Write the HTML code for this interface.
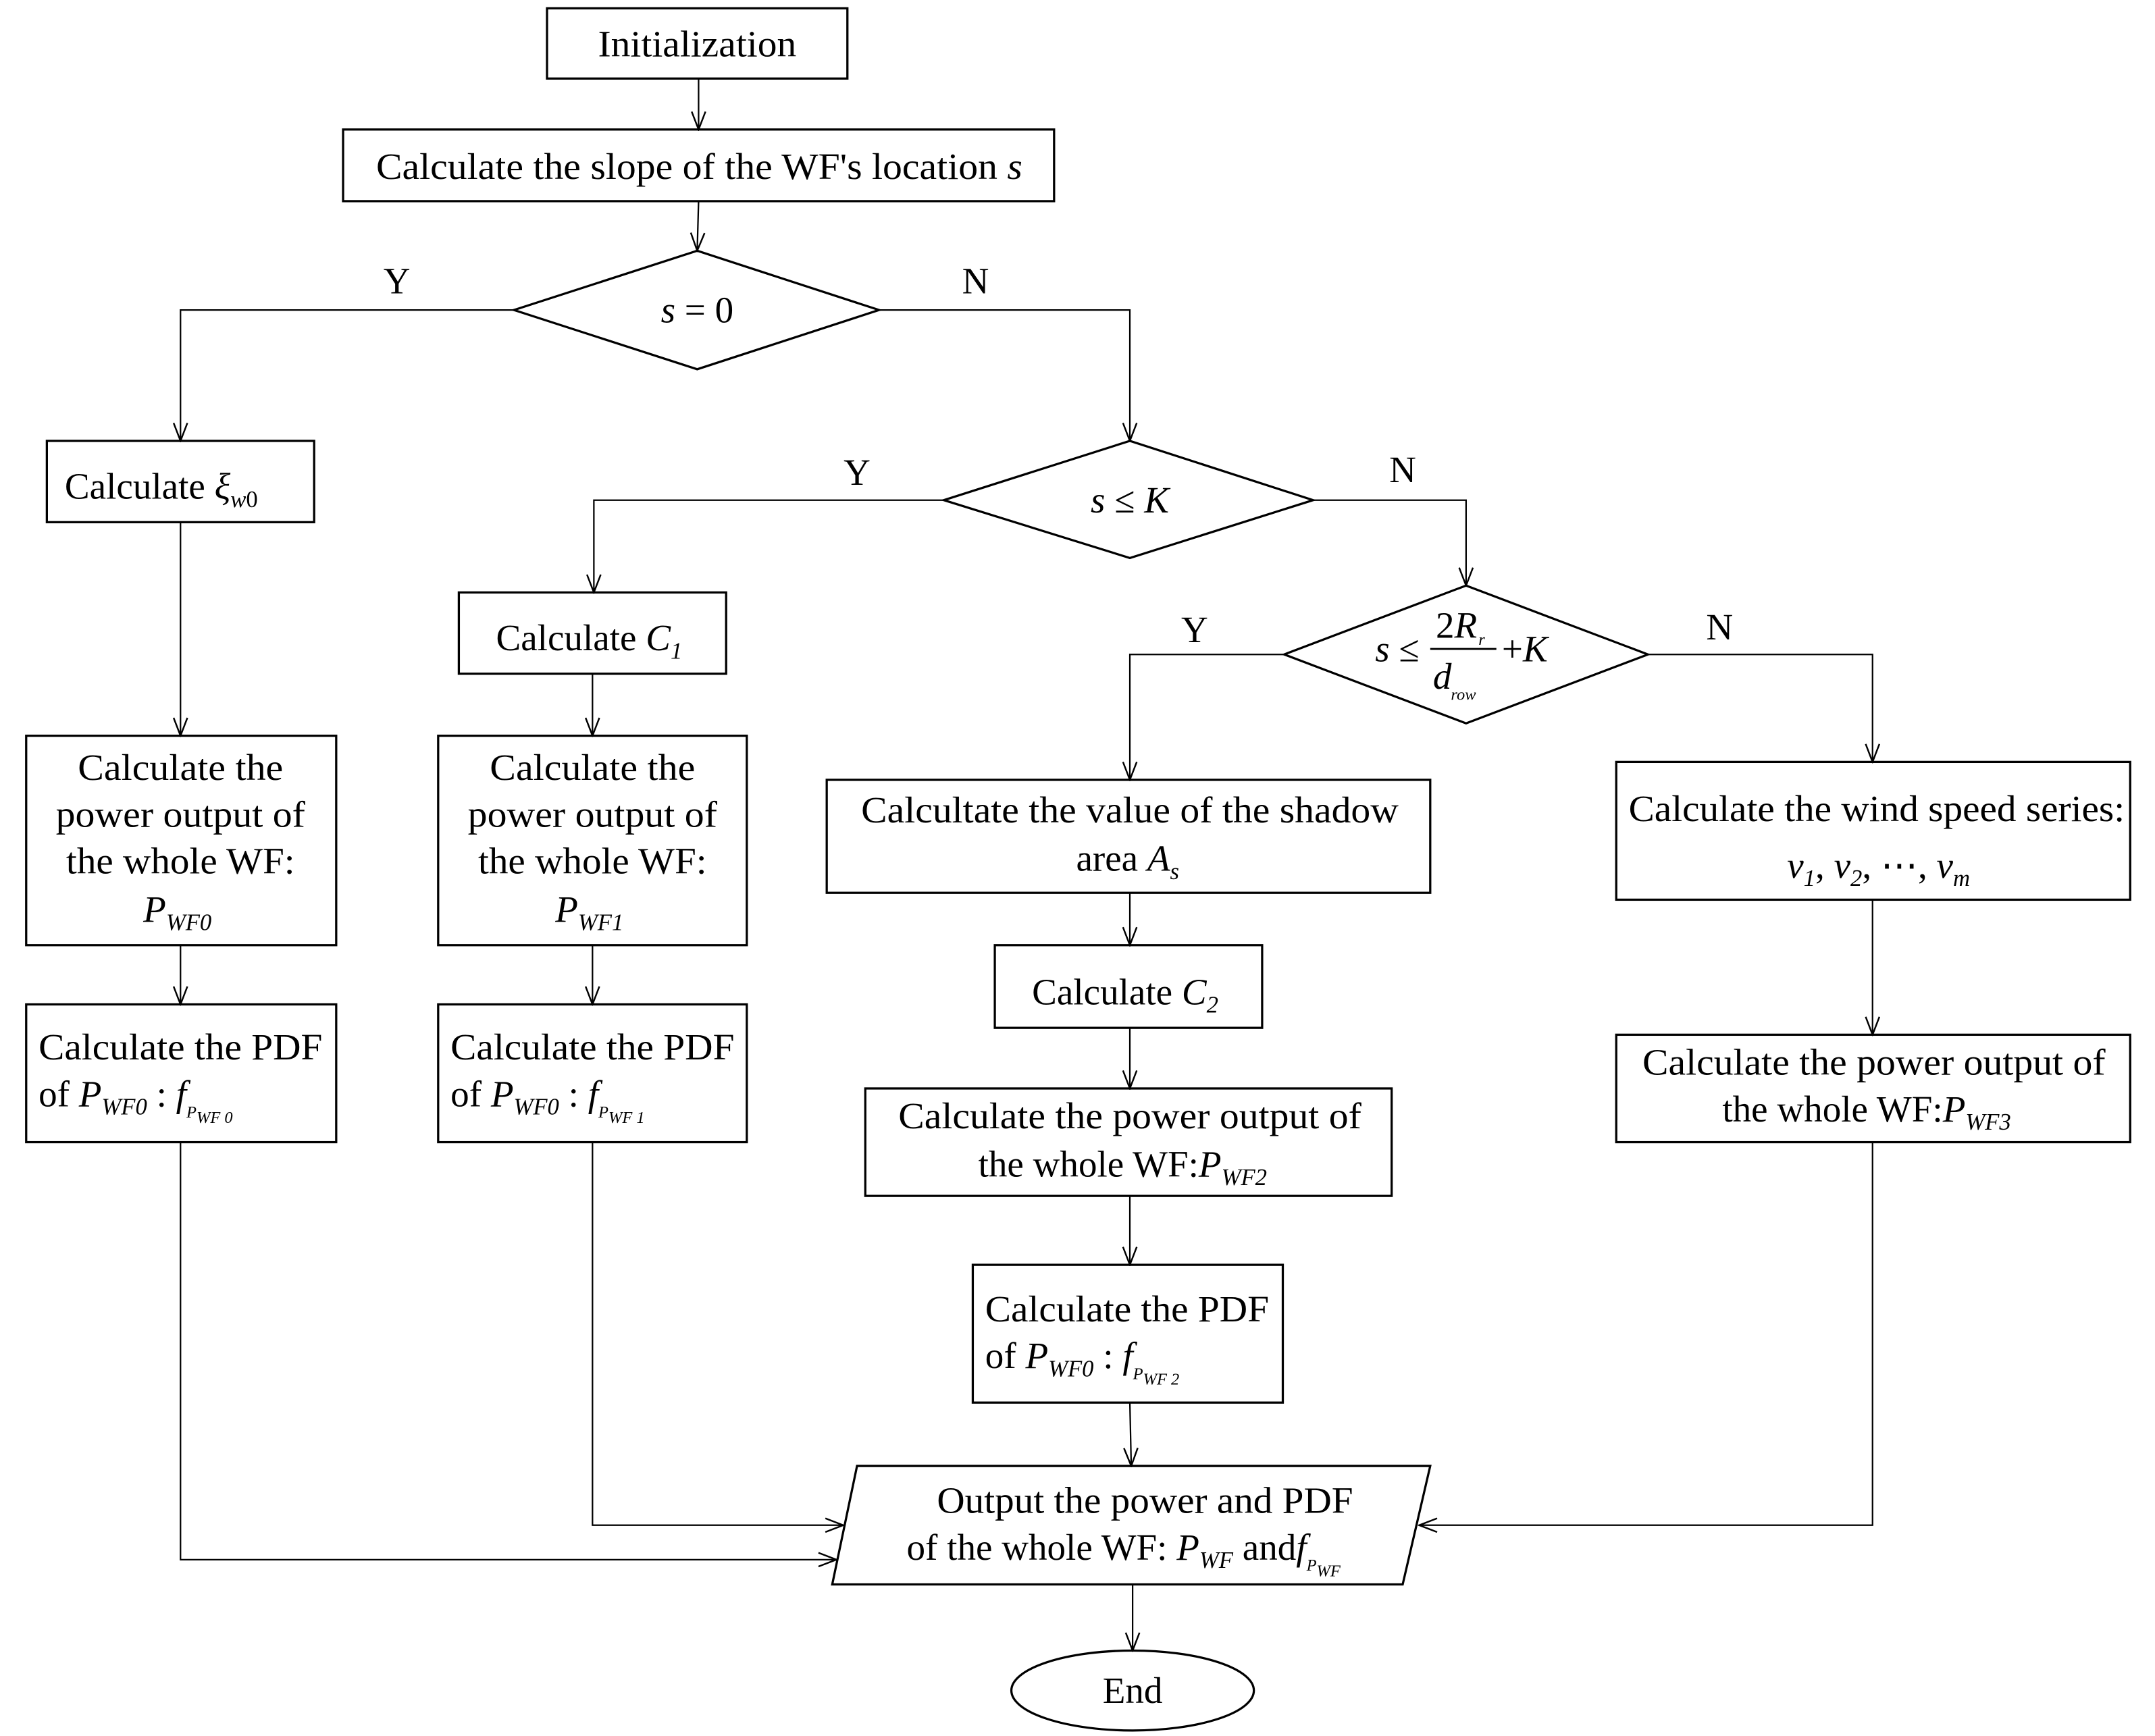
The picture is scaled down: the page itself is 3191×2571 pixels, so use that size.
<!DOCTYPE html>
<html><head><meta charset="utf-8"><style>
html,body{margin:0;padding:0;background:#fff;}
svg{display:block;}
text{font-family:"Liberation Serif","Times New Roman",serif;font-size:27px;fill:#000;}
.i{font-style:italic;}
.s{font-size:17px;font-style:italic;}
.ss{font-size:12px;font-style:italic;}
</style></head><body>
<svg width="3191" height="2571" viewBox="0 0 1564 1260" preserveAspectRatio="none" xmlns="http://www.w3.org/2000/svg">
<defs>
<marker id="a" markerWidth="16" markerHeight="12" refX="15" refY="6" orient="auto" markerUnits="userSpaceOnUse" viewBox="0 0 16 12">
<path d="M2,1 L15,6 L2,11" fill="none" stroke="#000" stroke-width="1.2"/>
</marker>
</defs>
<g fill="none" stroke="#000" stroke-width="1.6">
<rect x="397" y="6" width="218" height="51"/>
<rect x="249" y="94" width="516" height="52"/>
<polygon points="373,225 506,182 638,225 506,268"/>
<polygon points="685,363 820,320 953,363 820,405"/>
<polygon points="932,475 1064,425 1196,475 1064,525"/>
<rect x="34" y="320" width="194" height="59"/>
<rect x="333" y="430" width="194" height="59"/>
<rect x="19" y="534" width="225" height="152"/>
<rect x="19" y="729" width="225" height="100"/>
<rect x="318" y="534" width="224" height="152"/>
<rect x="318" y="729" width="224" height="100"/>
<rect x="600" y="566" width="438" height="82"/>
<rect x="722" y="686" width="194" height="60"/>
<rect x="628" y="790" width="382" height="78"/>
<rect x="706" y="918" width="225" height="100"/>
<rect x="1173" y="553" width="373" height="100"/>
<rect x="1173" y="751" width="373" height="78"/>
<polygon points="622,1064 1038,1064 1018,1150 604,1150"/>
<ellipse cx="822" cy="1227" rx="88" ry="29"/>
</g>
<g fill="none" stroke="#000" stroke-width="1.1">
<line x1="507" y1="57" x2="507" y2="94" marker-end="url(#a)"/>
<line x1="507" y1="146" x2="506" y2="182" marker-end="url(#a)"/>
<polyline points="373,225 131,225 131,320" marker-end="url(#a)"/>
<polyline points="638,225 820,225 820,320" marker-end="url(#a)"/>
<polyline points="685,363 431,363 431,430" marker-end="url(#a)"/>
<polyline points="953,363 1064,363 1064,425" marker-end="url(#a)"/>
<polyline points="932,475 820,475 820,566" marker-end="url(#a)"/>
<polyline points="1196,475 1359,475 1359,553" marker-end="url(#a)"/>
<line x1="131" y1="379" x2="131" y2="534" marker-end="url(#a)"/>
<line x1="131" y1="686" x2="131" y2="729" marker-end="url(#a)"/>
<line x1="430" y1="489" x2="430" y2="534" marker-end="url(#a)"/>
<line x1="430" y1="686" x2="430" y2="729" marker-end="url(#a)"/>
<line x1="820" y1="648" x2="820" y2="686" marker-end="url(#a)"/>
<line x1="820" y1="746" x2="820" y2="790" marker-end="url(#a)"/>
<line x1="820" y1="868" x2="820" y2="918" marker-end="url(#a)"/>
<line x1="820" y1="1018" x2="821" y2="1064" marker-end="url(#a)"/>
<line x1="1359" y1="653" x2="1359" y2="751" marker-end="url(#a)"/>
<line x1="822" y1="1150" x2="822" y2="1198" marker-end="url(#a)"/>
<polyline points="131,829 131,1132 607,1132" marker-end="url(#a)"/>
<polyline points="430,829 430,1107 612,1107" marker-end="url(#a)"/>
<polyline points="1359,829 1359,1107 1030,1107" marker-end="url(#a)"/>
</g>
<g>
<text x="506" y="41" text-anchor="middle" textLength="144" lengthAdjust="spacingAndGlyphs">Initialization</text>
<text x="273" y="130" textLength="469" lengthAdjust="spacingAndGlyphs">Calculate the slope of the WF's location <tspan class="i">s</tspan></text>
<text x="506" y="234" text-anchor="middle"><tspan class="i">s</tspan> = 0</text>
<text x="288" y="213" text-anchor="middle">Y</text>
<text x="708" y="213" text-anchor="middle">N</text>
<text x="622" y="352" text-anchor="middle">Y</text>
<text x="1018" y="350" text-anchor="middle">N</text>
<text x="867" y="466" text-anchor="middle">Y</text>
<text x="1248" y="464" text-anchor="middle">N</text>
<text x="820" y="372" text-anchor="middle"><tspan class="i">s</tspan> ≤ <tspan class="i">K</tspan></text>
<text x="998" y="480"><tspan class="i">s</tspan> ≤</text>
<line x1="1038" y1="471" x2="1086" y2="471" stroke="#000" stroke-width="1.4"/>
<text x="1042" y="463">2<tspan class="i">R</tspan></text>
<text x="1073" y="468" class="ss">r</text>
<text x="1040" y="500" class="i">d</text>
<text x="1053" y="508" class="ss">row</text>
<text x="1090" y="480">+<tspan class="i">K</tspan></text>

<text x="47" y="362">Calculate <tspan class="i">ξ</tspan><tspan class="s" dy="6">w</tspan><tspan font-size="17" dy="0">0</tspan></text>
<text x="360" y="472">Calculate <tspan class="i">C</tspan><tspan class="s" dy="6">1</tspan></text>

<text x="131" y="566" text-anchor="middle" textLength="149" lengthAdjust="spacingAndGlyphs">Calculate the</text>
<text x="131" y="600" text-anchor="middle" textLength="181" lengthAdjust="spacingAndGlyphs">power output of</text>
<text x="131" y="634" text-anchor="middle" textLength="166" lengthAdjust="spacingAndGlyphs">the whole WF:</text>
<text x="104" y="669" class="i">P<tspan class="s" dy="6">WF0</tspan></text>
<text x="28" y="769" textLength="206" lengthAdjust="spacingAndGlyphs">Calculate the PDF</text>
<text x="28" y="803">of <tspan class="i">P</tspan><tspan class="s" dy="6">WF0</tspan><tspan dy="-6"> :  </tspan><tspan class="i">f</tspan><tspan class="ss" dy="8">P</tspan><tspan class="ss" dy="4">WF 0</tspan></text>

<text x="430" y="566" text-anchor="middle" textLength="149" lengthAdjust="spacingAndGlyphs">Calculate the</text>
<text x="430" y="600" text-anchor="middle" textLength="181" lengthAdjust="spacingAndGlyphs">power output of</text>
<text x="430" y="634" text-anchor="middle" textLength="166" lengthAdjust="spacingAndGlyphs">the whole WF:</text>
<text x="403" y="669" class="i">P<tspan class="s" dy="6">WF1</tspan></text>
<text x="327" y="769" textLength="206" lengthAdjust="spacingAndGlyphs">Calculate the PDF</text>
<text x="327" y="803">of <tspan class="i">P</tspan><tspan class="s" dy="6">WF0</tspan><tspan dy="-6"> :  </tspan><tspan class="i">f</tspan><tspan class="ss" dy="8">P</tspan><tspan class="ss" dy="4">WF 1</tspan></text>

<text x="820" y="597" text-anchor="middle" textLength="390" lengthAdjust="spacingAndGlyphs">Calcultate the value of the shadow</text>
<text x="781" y="632">area <tspan class="i">A</tspan><tspan class="s" dy="6">s</tspan></text>
<text x="749" y="729">Calculate <tspan class="i">C</tspan><tspan class="s" dy="6">2</tspan></text>
<text x="820" y="819" text-anchor="middle" textLength="336" lengthAdjust="spacingAndGlyphs">Calculate the power output of</text>
<text x="710" y="854">the whole WF:<tspan class="i">P</tspan><tspan class="s" dy="6">WF2</tspan></text>
<text x="715" y="959" textLength="206" lengthAdjust="spacingAndGlyphs">Calculate the PDF</text>
<text x="715" y="993">of <tspan class="i">P</tspan><tspan class="s" dy="6">WF0</tspan><tspan dy="-6"> :  </tspan><tspan class="i">f</tspan><tspan class="ss" dy="8">P</tspan><tspan class="ss" dy="4">WF 2</tspan></text>

<text x="1362" y="596" text-anchor="middle" textLength="360" lengthAdjust="spacingAndGlyphs">Calculate the wind speed series:</text>
<text x="1297" y="637" class="i">v<tspan class="s" font-style="normal" dy="6">1</tspan><tspan dy="-6" font-style="normal">, </tspan>v<tspan class="s" font-style="normal" dy="6">2</tspan><tspan dy="-6" font-style="normal">, ⋯, </tspan>v<tspan class="s" dy="6">m</tspan></text>
<text x="1360" y="780" text-anchor="middle" textLength="336" lengthAdjust="spacingAndGlyphs">Calculate the power output of</text>
<text x="1250" y="814">the whole WF:<tspan class="i">P</tspan><tspan class="s" dy="6">WF3</tspan></text>

<text x="831" y="1098" text-anchor="middle" textLength="302" lengthAdjust="spacingAndGlyphs">Output the power and PDF</text>
<text x="658" y="1132">of the whole  WF: <tspan class="i">P</tspan><tspan class="s" dy="6">WF</tspan><tspan dy="-6"> and</tspan><tspan class="i">f</tspan><tspan class="ss" dy="8">P</tspan><tspan class="ss" dy="4">WF</tspan></text>
<text x="822" y="1236" text-anchor="middle">End</text>
</g>
</svg>
</body></html>
